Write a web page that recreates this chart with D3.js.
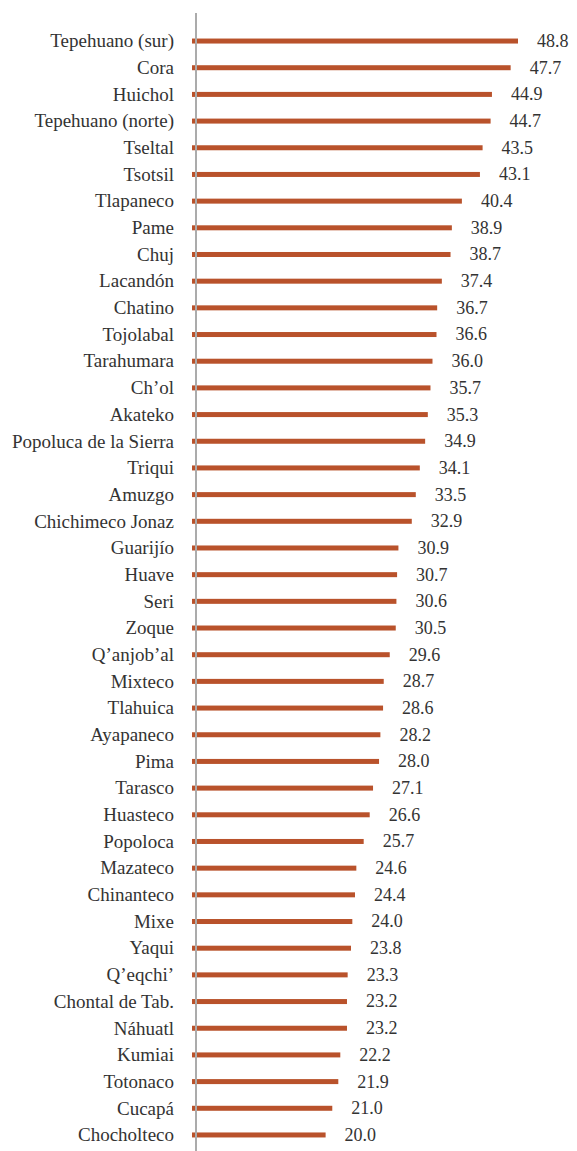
<!DOCTYPE html>
<html><head><meta charset="utf-8">
<script src="https://cdn.jsdelivr.net/npm/d3@7/dist/d3.min.js"></script>
</head><body style="margin:0">
<svg id="c" width="577" height="1151" font-family="Liberation Serif"></svg>
<script>
const categories = ["Tepehuano (sur)","Cora","Huichol","Tepehuano (norte)","Tseltal","Tsotsil","Tlapaneco","Pame","Chuj","Lacandón","Chatino","Tojolabal","Tarahumara","Ch’ol","Akateko","Popoluca de la Sierra","Triqui","Amuzgo","Chichimeco Jonaz","Guarijío","Huave","Seri","Zoque","Q’anjob’al","Mixteco","Tlahuica","Ayapaneco","Pima","Tarasco","Huasteco","Popoloca","Mazateco","Chinanteco","Mixe","Yaqui","Q’eqchi’","Chontal de Tab.","Náhuatl","Kumiai","Totonaco","Cucapá","Chocholteco"];
const values = [48.8,47.7,44.9,44.7,43.5,43.1,40.4,38.9,38.7,37.4,36.7,36.6,36.0,35.7,35.3,34.9,34.1,33.5,32.9,30.9,30.7,30.6,30.5,29.6,28.7,28.6,28.2,28.0,27.1,26.6,25.7,24.6,24.4,24.0,23.8,23.3,23.2,23.2,22.2,21.9,21.0,20.0];
const valueLabels = values.map(v => v.toFixed(1));

const svg = d3.select("#c");
const axisX = 196;
const x = d3.scaleLinear().domain([0, 48.8]).range([192, 518]);
const y = d3.scaleBand().domain(categories).range([27.7, 1148.3]).paddingInner(0);
const color = "#b9522b";

svg.selectAll("rect.bar").data(values).join("rect")
  .attr("class","bar")
  .attr("x", x(0))
  .attr("y", (d,i) => y(categories[i]) + y.bandwidth()/2 - 2.5)
  .attr("width", d => x(d) - x(0))
  .attr("height", 5)
  .attr("fill", color);

svg.append("line")
  .attr("x1", axisX).attr("x2", axisX)
  .attr("y1", 13).attr("y2", 1151)
  .attr("stroke", "#ababab").attr("stroke-width", 2);

svg.selectAll("text.cat").data(categories).join("text")
  .attr("class","cat")
  .attr("x", 174)
  .attr("y", d => y(d) + y.bandwidth()/2)
  .attr("dy", "0.33em")
  .attr("text-anchor","end")
  .style("font-family", '"Liberation Serif"')
  .style("font-size", "19px")
  .attr("fill", "#333333")
  .text(d => d);

svg.selectAll("text.val").data(values).join("text")
  .attr("class","val")
  .attr("x", d => x(d) + 19)
  .attr("y", (d,i) => y(categories[i]) + y.bandwidth()/2)
  .attr("dy", "0.33em")
  .style("font-family", '"Liberation Serif"')
  .style("font-size", "18px")
  .attr("fill", "#333333")
  .text((d,i) => valueLabels[i]);
</script>
</body></html>
